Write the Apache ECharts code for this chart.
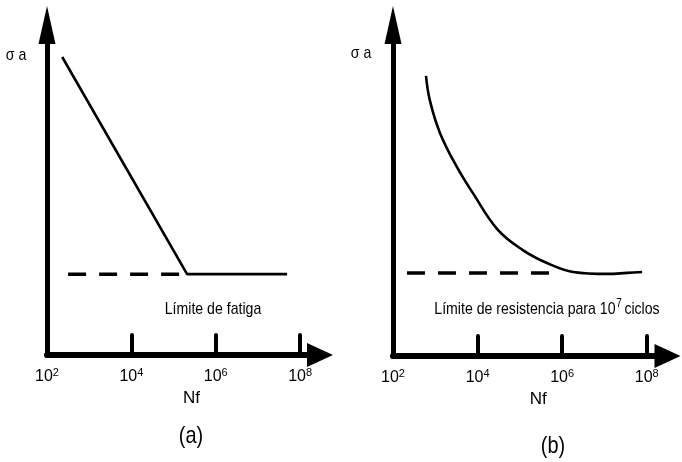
<!DOCTYPE html>
<html>
<head>
<meta charset="utf-8">
<script src="https://cdn.jsdelivr.net/npm/echarts@6/dist/echarts.min.js"></script>
<style>
  html, body { margin: 0; padding: 0; background: #fff; }
  #chart { width: 682px; height: 462px; }
</style>
</head>
<body>
<div id="chart"></div>
<script>
// x en exponente de 10 (Nf = 10^x), y en unidades arbitrarias de σa
const tickExps = [4, 6, 8]
const labelExps = [2, 4, 6, 8]

// (a) curva con límite de fatiga
const curveA = [[2.36, 90.3], [5.32, 24.5], [7.69, 24.5]]
const dashA = [[2.50, 24.5], [5.32, 24.5]]

// (b) curva sin límite definido
const curveB = [
  [2.78, 84.6], [2.87, 77.3], [3.11, 67.4], [3.51, 57.1], [3.89, 49.2],
  [4.48, 38.1], [5.07, 32.0], [5.64, 28.1], [6.26, 25.4], [7.06, 24.8],
  [7.53, 25.1], [7.89, 25.4]
]
const dashB = [[2.33, 25.1], [5.90, 25.1]]

const FONT = '"Liberation Sans Narrow", "Arial Narrow", "Liberation Sans", sans-serif'

function xAxisFor(gridIndex, max) {
  return {
    gridIndex,
    type: 'value',
    min: 2,
    max,
    name: 'Nf',
    nameLocation: 'middle',
    nameGap: 35,
    nameTextStyle: { color: '#000', fontFamily: FONT, fontSize: 17, padding: [0, 0, 0, 16] },
    axisLine: {
      lineStyle: { color: '#000', width: 6 },
      symbol: ['none', 'triangle'],
      symbolSize: [24, 26]
    },
    axisTick: {
      inside: true,
      length: 20,
      customValues: tickExps,
      lineStyle: { color: '#000', width: 4, cap: 'round' }
    },
    axisLabel: {
      customValues: labelExps,
      margin: 12,
      color: '#000',
      fontFamily: FONT,
      formatter: (v) => '{b|10}{s|' + v + '}',
      rich: {
        b: { fontSize: 16, fontFamily: FONT, color: '#000' },
        s: { fontSize: 11, fontFamily: FONT, color: '#000', padding: [0, 0, 9, 0] }
      }
    },
    splitLine: { show: false }
  }
}

function yAxisFor(gridIndex) {
  return {
    gridIndex,
    type: 'value',
    min: 0,
    max: 100,
    axisLine: {
      show: true,
      lineStyle: { color: '#000', width: 5, cap: 'square' },
      symbol: ['none', 'triangle'],
      symbolSize: [17, 38]
    },
    axisTick: { show: false },
    axisLabel: { show: false },
    splitLine: { show: false }
  }
}

function solid(data, idx, smooth) {
  return {
    type: 'line', xAxisIndex: idx, yAxisIndex: idx, data,
    smooth: smooth ? 0.4 : false,
    showSymbol: false, symbol: 'none',
    lineStyle: { color: '#000', width: 2.6 },
    z: 3
  }
}

function dashed(data, idx) {
  return {
    type: 'line', xAxisIndex: idx, yAxisIndex: idx, data,
    showSymbol: false, symbol: 'none',
    lineStyle: { color: '#000', width: 3.5, type: [18, 13] },
    z: 2
  }
}

const chart = echarts.init(document.getElementById('chart'), null, { renderer: 'canvas' })

// texto condensado (escala horizontal) para imitar la tipografía estrecha
const txt = (x, y, text, size, sx) => ({
  type: 'text', x, y, scaleX: sx || 0.83,
  style: {
    text, fill: '#000', font: size + 'px ' + FONT,
    align: 'center', verticalAlign: 'middle'
  }
})

chart.setOption({
  animation: false,
  backgroundColor: '#fff',
  grid: [
    { left: 47, width: 273, top: 25, bottom: 107 },
    { left: 393, width: 274.5, top: 25, bottom: 106 }
  ],
  xAxis: [xAxisFor(0, 8.47), xAxisFor(1, 8.49)],
  yAxis: [yAxisFor(0), yAxisFor(1)],
  series: [
    solid(curveA, 0, false),
    dashed(dashA, 0),
    solid(curveB, 1, true),
    dashed(dashB, 1)
  ],
  graphic: [
    txt(16, 55, 'σ a', 17),
    txt(361, 53, 'σ a', 17),
    txt(213, 309, 'Límite de fatiga', 17),
    {
      type: 'text', x: 547, y: 309, scaleX: 0.83,
      style: {
        text: '{b|Límite de resistencia para 10}{s|7}{b|ciclos}',
        align: 'center', verticalAlign: 'middle',
        rich: {
          b: { fontSize: 17, fontFamily: FONT, fill: '#000' },
          s: { fontSize: 12, fontFamily: FONT, fill: '#000', padding: [0, 3, 10, 1] }
        }
      }
    },
    txt(191, 436, '(a)', 24),
    txt(553, 446, '(b)', 24)
  ]
})
</script>
</body>
</html>
